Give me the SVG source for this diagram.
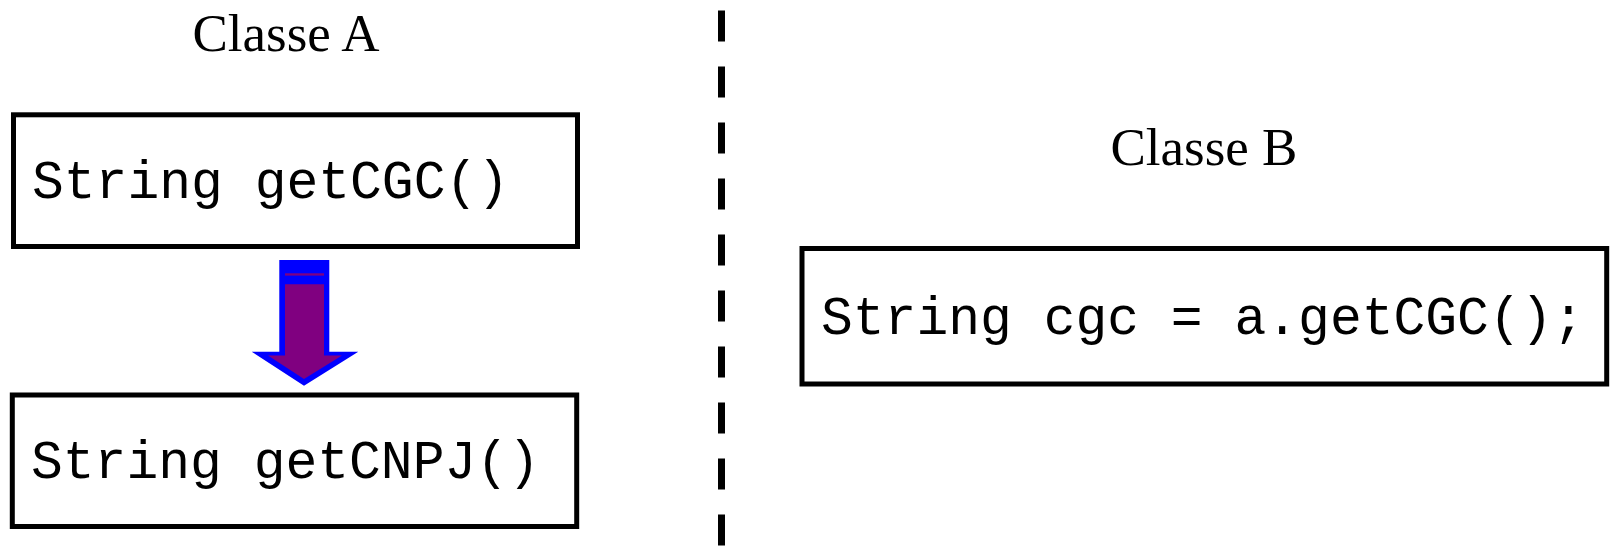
<svg xmlns="http://www.w3.org/2000/svg" width="1610" height="547" viewBox="0 0 1610 547">
  <style>
    .box { fill: #ffffff; stroke: #000000; stroke-width: 5; }
    .title { font-family: "Liberation Serif", "Times New Roman", serif; font-size: 53px; fill: #000000; text-anchor: middle; }
    .code { font-family: "Liberation Mono", "Courier New", monospace; font-size: 53px; fill: #000000; }
  </style>
  <rect x="0" y="0" width="1610" height="547" fill="#ffffff"/>

  <g id="separator">
    <line x1="721.5" y1="10.5" x2="721.5" y2="547" stroke="#000000" stroke-width="7" stroke-dasharray="31 25"/>
  </g>

  <g id="title-a">
    <text class="title" x="286" y="50.7">Classe A</text>
  </g>
  <g id="title-b">
    <text class="title" x="1204" y="165">Classe B</text>
  </g>

  <g id="node-getCGC">
    <rect class="box" x="13.5" y="114.8" width="564" height="131.7"/>
    <text class="code" x="32" y="198">String getCGC()</text>
  </g>

  <g id="node-getCNPJ">
    <rect class="box" x="12.3" y="395" width="564.4" height="131.5"/>
    <text class="code" x="31" y="478">String getCNPJ()</text>
  </g>

  <g id="node-classeB">
    <rect class="box" x="802" y="248.5" width="804.7" height="135.5"/>
    <text class="code" x="821" y="333.5">String cgc = a.getCGC();</text>
  </g>

  <g id="connectors">
    <polygon fill="#0000ff" points="279.3,260 329.3,260 329.3,351.7 358.3,351.7 304,385.7 251.7,351.7 279.3,351.7"/>
    <polygon fill="#800080" points="285,284.3 324,284.3 324,355.5 342,355.5 304,379 268,355.5 285,355.5"/>
    <rect x="285" y="273.3" width="39" height="2.3" fill="#800080"/>
  </g>
</svg>
